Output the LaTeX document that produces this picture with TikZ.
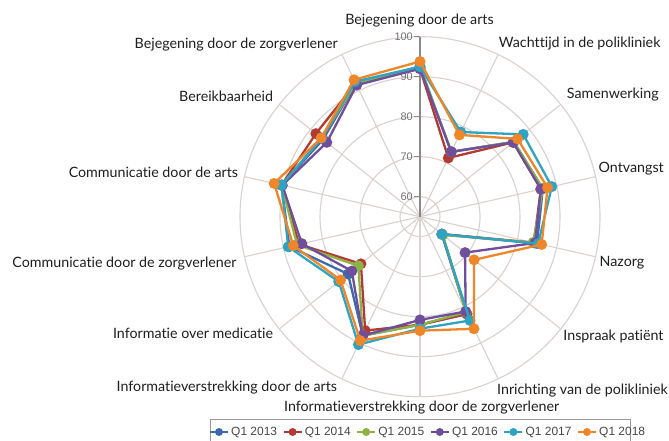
\documentclass[tikz,border=0pt]{standalone}
\usepackage{fontspec}
\setmainfont{Lato}[Ligatures=NoCommon]
\newfontfamily\legfont{Liberation Sans}
\definecolor{c13}{HTML}{3A6BB0}
\definecolor{c14}{HTML}{B33A33}
\definecolor{c15}{HTML}{8DB246}
\definecolor{c16}{HTML}{6F4E9C}
\definecolor{c17}{HTML}{2FA3C2}
\definecolor{c18}{HTML}{F0862A}
\definecolor{gridc}{HTML}{D9D2CE}
\definecolor{axisc}{HTML}{8A8A8A}
\newcommand\drawseries[3]{%
  \foreach \v [count=\k from 0] in {#3}
    \coordinate (#1-\k) at ({420+(\v-55)*4*sin(\k*360/14)},{216.7-(\v-55)*4*cos(\k*360/14)});
  \draw[series,#2] (#1-0) \foreach \k in {1,...,13}{-- (#1-\k)} -- cycle;
  \foreach \k in {0,...,13} \fill[#2] (#1-\k) circle[radius=5.5bp];
}
\begin{document}
\begin{tikzpicture}[x=1bp,y=-1bp,
  gridline/.style={draw=gridc, line width=1.1bp},
  series/.style={line width=2.3bp, line join=round},
  lbl/.style={font=\fontsize{14.3}{16}\selectfont, text=black!88, inner sep=0pt},
  ticklbl/.style={font=\legfont\fontsize{11}{12}\selectfont, text=black!55, inner sep=0pt, anchor=east},
  legtext/.style={font=\legfont\fontsize{12}{13}\selectfont, text=black!72, inner sep=0pt, anchor=west}]
\useasboundingbox (0,0) rectangle (669,441);
\fill[white] (0,0) rectangle (669,441);
\coordinate (O) at (420,216.7);
\foreach \r in {20,60,100,140,180} \draw[gridline] (O) circle[radius=\r bp];
\foreach \k in {0,...,13} \draw[gridline] (O) -- ++({180*sin(\k*360/14)},{-180*cos(\k*360/14)});
\coordinate (Top) at (420,36.7);
\draw[axisc, line width=1.2bp] (O) -- (Top);
\foreach \v in {60,70,80,90,100}{
  \draw[axisc, line width=1bp] (414,{216.7-(\v-55)*4}) -- (420,{216.7-(\v-55)*4});
  \node[ticklbl] (t\v) at (413,{216.7-(\v-55)*4}) {\v};
}
\drawseries{s13}{c13}{92.5,73,85,86.5,85,62,82,82,88,78,88.5,90.5,86,92}
\drawseries{s14}{c14}{92,71.3,84.8,86,84.2,62,82,82,86.6,73.9,86,90.5,88.3,92}
\drawseries{s15}{c15}{92.5,73,85,86.5,84,62.3,81.5,82,88,74.7,86.5,90.5,86.5,92}
\drawseries{s16}{c16}{92,73,84.8,86,84.5,69.4,81.3,80.8,88,76.8,85.3,90.3,84.8,91.5}
\drawseries{s17}{c17}{92.5,78.5,88,88.8,85.3,62,83.8,83,90.5,81,88.8,90.5,86.5,92.5}
\drawseries{s18}{c18}{93.8,77.7,86.2,87.7,86.2,72.3,86.1,83.5,89.4,80.4,87.5,92.4,86.6,93}
% category labels
\node[lbl] (L0) at (419.5,21) {Bejegening door de arts};
\node[lbl] (L1) at (579.7,43.3) {Wachttijd in de polikliniek};
\node[lbl] (L2) at (612.8,95) {Samenwerking};
\node[lbl] (L3) at (631.2,168.3) {Ontvangst};
\node[lbl] (L4) at (622,262.3) {Nazorg};
\node[lbl] (L5) at (613.5,336) {Inspraak patiënt};
\node[lbl,anchor=east] (L6) at (668,391) {Inrichting van de polikliniek};
\node[lbl] (L7) at (421.7,407.3) {Informatieverstrekking door de zorgverlener};
\node[lbl,anchor=east] (L8) at (337.3,387.3) {Informatieverstrekking door de arts};
\node[lbl,anchor=east] (L9) at (273.3,333.3) {Informatie over medicatie};
\node[lbl,anchor=east] (L10) at (236.7,263.3) {Communicatie door de zorgverlener};
\node[lbl,anchor=east] (L11) at (238.3,172.7) {Communicatie door de arts};
\node[lbl,anchor=east] (L12) at (273.3,96) {Bereikbaarheid};
\node[lbl,anchor=east] (L13) at (338,45) {Bejegening door de zorgverlener};
% legend
\draw[black!40, line width=0.8bp] (210.5,442) -- (210.5,419) -- (630,419) -- (630,442);
\foreach \c/\t [count=\i from 0] in {c13/2013,c14/2014,c15/2015,c16/2016,c17/2017,c18/2018}{
  \coordinate (m\i) at ({219+73.6*\i},432);
  \draw[\c, line width=2bp] ([xshift=-9bp]m\i) -- ([xshift=9bp]m\i);
  \fill[\c] (m\i) circle[radius=4bp];
  \node[legtext] (lt\i) at ([xshift=12bp]m\i) {Q1 \t};
}
\end{tikzpicture}
\end{document}
